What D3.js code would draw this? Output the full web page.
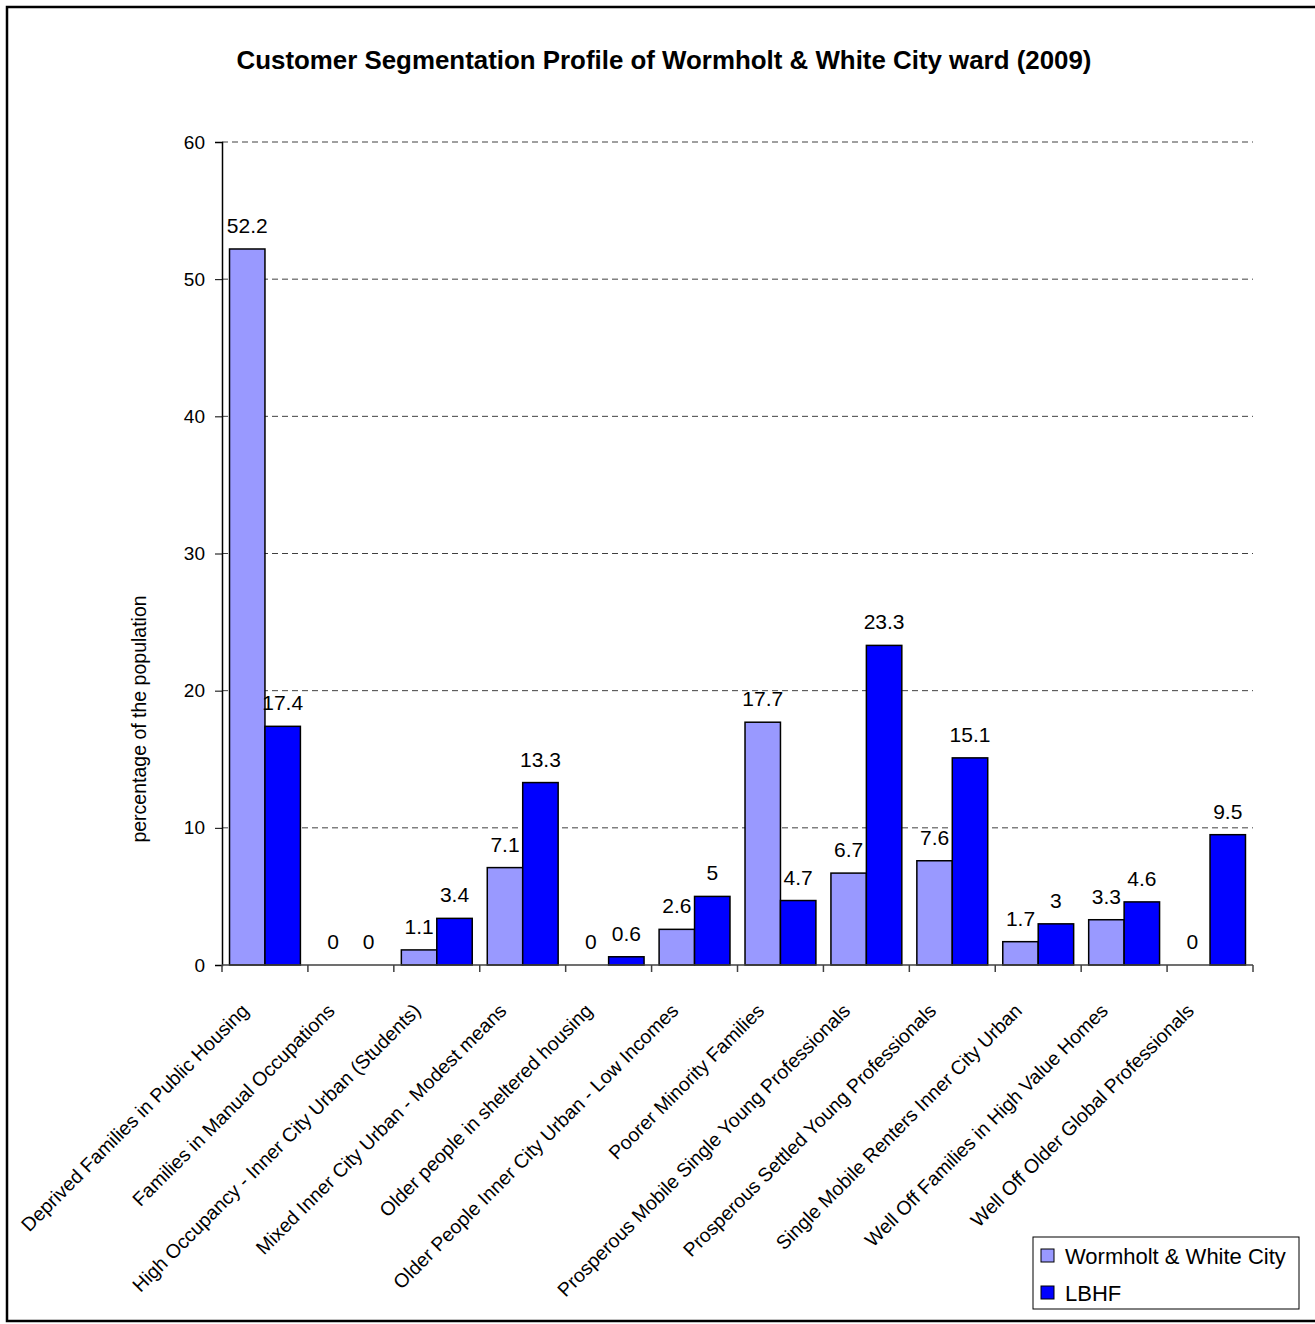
<!DOCTYPE html>
<html>
<head>
<meta charset="utf-8">
<script src="https://cdn.jsdelivr.net/npm/d3@7"></script>
<style>
  body { margin: 0; background: #fff; }
  svg { display: block; font-family: "Liberation Sans", Arial, sans-serif; }
</style>
</head>
<body>
<svg id="chart"></svg>
<script>
const width = 1315;
const height = 1324;

const categories = [
  "Deprived Families in Public Housing",
  "Families in Manual Occupations",
  "High Occupancy - Inner City Urban (Students)",
  "Mixed Inner City Urban - Modest means",
  "Older people in sheltered housing",
  "Older People Inner City Urban - Low Incomes",
  "Poorer Minority Families",
  "Prosperous Mobile Single Young Professionals",
  "Prosperous Settled Young Professionals",
  "Single Mobile Renters Inner City Urban",
  "Well Off Families in High Value Homes",
  "Well Off Older Global Professionals"
];
const seriesNames = ["Wormholt & White City", "LBHF"];
const wardValues = [52.2, 0, 1.1, 7.1, 0, 2.6, 17.7, 6.7, 7.6, 1.7, 3.3, 0];
const lbhfValues = [17.4, 0, 3.4, 13.3, 0.6, 5, 4.7, 23.3, 15.1, 3, 4.6, 9.5];
const yTicks = [0, 10, 20, 30, 40, 50, 60];
const colors = ["#9999ff", "#0000ff"];

const plot = { left: 222, right: 1253, top: 142, bottom: 965 };

const svg = d3.select("#chart")
    .attr("width", width)
    .attr("height", height);

// outer frame
svg.append("rect")
    .attr("x", 7).attr("y", 7)
    .attr("width", 1330).attr("height", 1314)
    .attr("fill", "none")
    .attr("stroke", "#000")
    .attr("stroke-width", 2.5);

svg.append("text")
    .attr("x", 664).attr("y", 69)
    .attr("text-anchor", "middle")
    .attr("textLength", 855)
    .attr("lengthAdjust", "spacingAndGlyphs")
    .style("font-size", "26px")
    .style("font-weight", "bold")
    .text("Customer Segmentation Profile of Wormholt & White City ward (2009)");

const x = d3.scaleBand()
    .domain(categories)
    .range([plot.left, plot.right])
    .paddingInner(0.175)
    .paddingOuter(0.0875);

const xSub = d3.scaleBand()
    .domain([0, 1])
    .range([0, x.bandwidth()]);

const y = d3.scaleLinear()
    .domain([0, 60])
    .range([plot.bottom, plot.top]);

// gridlines
svg.append("g")
  .selectAll("line")
  .data(yTicks.filter(d => d > 0))
  .join("line")
    .attr("x1", plot.left).attr("x2", plot.right)
    .attr("y1", d => y(d)).attr("y2", d => y(d))
    .attr("stroke", "#404040")
    .attr("stroke-width", 1)
    .attr("stroke-dasharray", "6,4");

// bars
const rows = categories.map((c, i) => ({ cat: c, vals: [wardValues[i], lbhfValues[i]] }));

const groups = svg.append("g")
  .selectAll("g")
  .data(rows)
  .join("g")
    .attr("transform", d => `translate(${x(d.cat)},0)`);

groups.selectAll("rect")
  .data(d => d.vals.map((v, k) => ({ v, k })).filter(e => e.v > 0))
  .join("rect")
    .attr("x", e => xSub(e.k))
    .attr("width", xSub.bandwidth())
    .attr("y", e => y(e.v))
    .attr("height", e => y(0) - y(e.v))
    .attr("fill", e => colors[e.k])
    .attr("stroke", "#000")
    .attr("stroke-width", 1.5);

groups.selectAll("text")
  .data(d => d.vals.map((v, k) => ({ v, k })))
  .join("text")
    .attr("x", e => xSub(e.k) + xSub.bandwidth() / 2)
    .attr("y", e => y(e.v) - 16)
    .attr("text-anchor", "middle")
    .style("font-size", "21px")
    .text(e => e.v);

// y axis
const yAxis = svg.append("g")
    .attr("transform", `translate(${plot.left},0)`)
    .call(d3.axisLeft(y).tickValues(yTicks).tickSize(7).tickPadding(10));
yAxis.select(".domain").attr("stroke", "#000").attr("stroke-width", 1.5);
yAxis.selectAll(".tick line").attr("stroke", "#000");
yAxis.selectAll(".tick text")
    .style("font-size", "19px")
    .style("font-family", "Liberation Sans, Arial, sans-serif")
    .attr("fill", "#000");

// x axis line and ticks at category boundaries
svg.append("line")
    .attr("x1", plot.left).attr("x2", plot.right)
    .attr("y1", plot.bottom).attr("y2", plot.bottom)
    .attr("stroke", "#404040")
    .attr("stroke-width", 1.5);

const step = x.step();
svg.append("g")
  .selectAll("line")
  .data(d3.range(categories.length + 1))
  .join("line")
    .attr("x1", i => plot.left + i * step).attr("x2", i => plot.left + i * step)
    .attr("y1", plot.bottom).attr("y2", plot.bottom + 7)
    .attr("stroke", "#404040")
    .attr("stroke-width", 1.5);

svg.append("g")
  .selectAll("text")
  .data(categories)
  .join("text")
    .attr("transform", d => `translate(${x(d) + x.bandwidth() / 2 - 15},1012) rotate(-45)`)
    .attr("text-anchor", "end")
    .style("font-size", "19.5px")
    .text(d => d);

svg.append("text")
    .attr("transform", "translate(146,719) rotate(-90)")
    .attr("text-anchor", "middle")
    .style("font-size", "19.5px")
    .text("percentage of the population");

// legend
const legend = svg.append("g");
legend.append("rect")
    .attr("x", 1033).attr("y", 1237)
    .attr("width", 266).attr("height", 72)
    .attr("fill", "#fff")
    .attr("stroke", "#000")
    .attr("stroke-width", 1);

const items = legend.selectAll("g")
  .data(seriesNames)
  .join("g")
    .attr("transform", (d, i) => `translate(1041,${1249 + i * 37})`);

items.append("rect")
    .attr("width", 13).attr("height", 13)
    .attr("fill", (d, i) => colors[i])
    .attr("stroke", "#000")
    .attr("stroke-width", 1);

items.append("text")
    .attr("x", 24).attr("y", 15)
    .style("font-size", "22px")
    .text(d => d);
</script>
</body>
</html>
